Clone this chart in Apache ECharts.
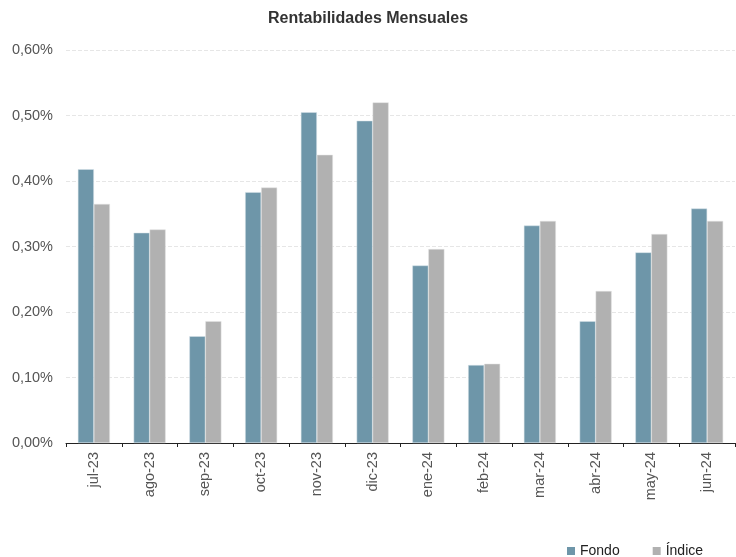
<!DOCTYPE html>
<html>
<head>
<meta charset="utf-8">
<script src="https://cdn.jsdelivr.net/npm/echarts@6/dist/echarts.min.js"></script>
<style>html,body{margin:0;padding:0;background:#fff}#c{width:736px;height:557px}</style>
</head>
<body>
<div id="c"></div>
<script>
const categories = ['jul-23','ago-23','sep-23','oct-23','nov-23','dic-23','ene-24','feb-24','mar-24','abr-24','may-24','jun-24'];
const fondo = [0.418, 0.321, 0.163, 0.383, 0.505, 0.492, 0.271, 0.119, 0.332, 0.186, 0.291, 0.358];
const indice = [0.365, 0.326, 0.186, 0.390, 0.440, 0.520, 0.296, 0.121, 0.339, 0.232, 0.319, 0.339];
const seriesNames = ['Fondo', 'Índice'];
const yTicks = { min: 0, max: 0.6, interval: 0.1 };

const FONT = 'Liberation Sans, Arial, sans-serif';
const chart = echarts.init(document.getElementById('c'));
const fmt = v => v.toFixed(2).replace('.', ',') + '%';
chart.setOption({
  animation: false,
  title: {
    text: 'Rentabilidades Mensuales',
    left: 'center', top: 11, padding: 0,
    textStyle: { fontFamily: FONT, fontSize: 16, fontWeight: 'bold', color: '#333' }
  },
  legend: {
    data: seriesNames,
    left: 567, top: 544, padding: 0,
    itemWidth: 8, itemHeight: 8, itemGap: 33, itemTextGap: 3,
    icon: 'rect',
    itemStyle: { borderWidth: 0 },
    textStyle: { fontFamily: FONT, fontSize: 14, color: '#222' }
  },
  grid: { left: 66, right: 1, top: 50, bottom: 114, containLabel: false },
  xAxis: {
    type: 'category',
    data: categories,
    axisLine: { show: true, lineStyle: { color: '#222', width: 1 } },
    axisTick: { show: true, alignWithLabel: false, length: 4, lineStyle: { color: '#222' } },
    axisLabel: { rotate: 90, margin: 9, fontFamily: FONT, fontSize: 14.5, color: '#555' }
  },
  yAxis: {
    type: 'value',
    min: yTicks.min, max: yTicks.max, interval: yTicks.interval,
    axisLine: { show: false },
    axisTick: { show: false },
    splitLine: { show: true, lineStyle: { color: '#e6e6e6', type: 'dashed', width: 1 } },
    axisLabel: { formatter: fmt, margin: 13, fontFamily: FONT, fontSize: 14.5, color: '#555' }
  },
  series: [
    { name: seriesNames[0], type: 'bar', data: fondo, barWidth: 16, barGap: '0%',
      itemStyle: { color: '#6e96a9', borderColor: '#d6e2e8', borderWidth: 0.5 } },
    { name: seriesNames[1], type: 'bar', data: indice, barWidth: 16, barGap: '0%',
      itemStyle: { color: '#b1b1b1', borderColor: '#e2e2e2', borderWidth: 0.5 } }
  ]
});
</script>
</body>
</html>
